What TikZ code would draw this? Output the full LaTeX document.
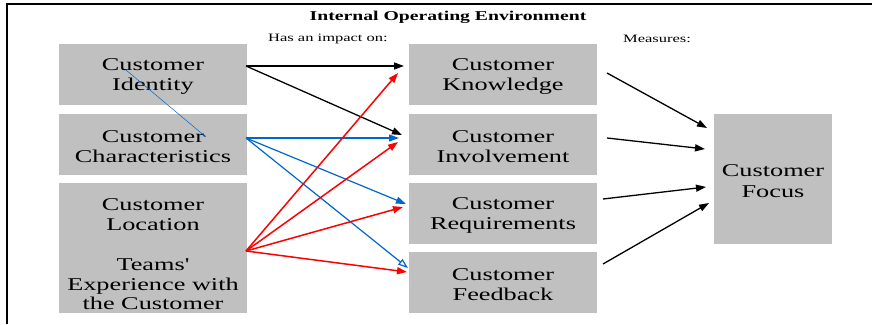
\documentclass[tikz,border=0pt]{standalone}
\usepackage{fontspec}
\setmainfont{Liberation Serif}[FakeStretch=1.46, Ligatures=TeXOff]
\usetikzlibrary{arrows.meta}
\definecolor{boxgray}{RGB}{192,192,192}
\definecolor{lineblue}{RGB}{0,102,204}
\begin{document}
\begin{tikzpicture}[x=1pt,y=-1pt,
  box/.style={fill=boxgray, inner sep=0pt},
  boxtext/.style={inner sep=0pt, align=center, font=\fontsize{18}{20.5}\selectfont},
  arr/.style={-{Triangle[length=10pt,width=7pt]}, line width=1.3pt},
  openarr/.style={-{Triangle[open,fill=white,length=10pt,width=7pt]}, line width=1.2pt},
  heading/.style={inner sep=0pt, font=\bfseries\fontsize{13.5}{15}\selectfont},
  caption/.style={inner sep=0pt, font=\fontsize{11.3}{13}\selectfont}]
\useasboundingbox (0,0) rectangle (872,324);
% frame
\draw[line width=2pt] (7,324) -- (7,4) -- (872,4);
% texts
\node[heading] (title) at (448,17.5) {Internal Operating Environment};
\node[caption] (impact) at (328,39) {Has an impact on:};
\node[caption] (measures) at (657,39) {Measures:};
% left column
\node[box, minimum width=188pt, minimum height=61pt] (ident) at (153,74.5) {};
\node[boxtext] (identtext) at (153,76.5) {Customer\\Identity};
\node[box, minimum width=188pt, minimum height=61pt] (charac) at (153,144.5) {};
\node[boxtext] (charactext) at (153,146.5) {Customer\\Characteristics};
\node[box, minimum width=188pt, minimum height=130pt] (loc) at (153,248) {};
\node[boxtext, font=\fontsize{18}{19.8}\selectfont] (loctext) at (153,254.5) {Customer\\Location\\[19.8pt]Teams'\\Experience with\\the Customer};
% middle column
\node[box, minimum width=188pt, minimum height=61pt] (know) at (503,74.5) {};
\node[boxtext] (knowtext) at (503,76.5) {Customer\\Knowledge};
\node[box, minimum width=188pt, minimum height=61pt] (invol) at (503,144.5) {};
\node[boxtext] (involtext) at (503,146.5) {Customer\\Involvement};
\node[box, minimum width=188pt, minimum height=61pt] (req) at (503,213.5) {};
\node[boxtext] (reqtext) at (503,215.5) {Customer\\Requirements};
\node[box, minimum width=188pt, minimum height=61pt] (feed) at (503,282.5) {};
\node[boxtext] (feedtext) at (503,284.5) {Customer\\Feedback};
% right
\node[box, minimum width=118pt, minimum height=130pt] (focus) at (773,179) {};
\node[boxtext] (focustext) at (773,181) {Customer\\Focus};
% connector points
\coordinate (sId) at (246,66);
\coordinate (sCh) at (246,138);
\coordinate (sLo) at (246,251);
\coordinate (tKb) at (404,66);
\coordinate (tIb) at (402,135);
\coordinate (tIbl) at (399,138);
\coordinate (tRbl) at (406,204);
\coordinate (tFbl) at (408,268);
\coordinate (tKr) at (398,73);
\coordinate (tIr) at (398,142);
\coordinate (tRr) at (403,207);
\coordinate (tFr) at (407,272);
\coordinate (thinA) at (126,70);
\coordinate (thinB) at (206,137);
% black arrows from identity
\draw[arr] (sId) -- (tKb);
\draw[arr] (sId) -- (tIb);
% blue
\draw[arr, lineblue, line width=1.2pt] (sCh) -- (tIbl);
\draw[arr, lineblue, line width=1.2pt] (sCh) -- (tRbl);
\draw[openarr, lineblue] (sCh) -- (tFbl);
% red
\draw[arr, red, line width=1.5pt] (sLo) -- (tKr);
\draw[arr, red, line width=1.5pt] (sLo) -- (tIr);
\draw[arr, red, line width=1.5pt] (sLo) -- (tRr);
\draw[arr, red, line width=1.5pt] (sLo) -- (tFr);
% thin blue line
\draw[lineblue, line width=0.5pt, -{Triangle[length=2.5pt,width=2pt]}] (thinA) -- (thinB);
% to focus
\coordinate (k1) at (607,73);
\coordinate (k2) at (607,138);
\coordinate (k3) at (603,199);
\coordinate (k4) at (603,264);
\coordinate (f1) at (707,128);
\coordinate (f2) at (705,149);
\coordinate (f3) at (706,187);
\coordinate (f4) at (709,203);
\draw[arr] (k1) -- (f1);
\draw[arr] (k2) -- (f2);
\draw[arr] (k3) -- (f3);
\draw[arr] (k4) -- (f4);
\end{tikzpicture}
\end{document}
